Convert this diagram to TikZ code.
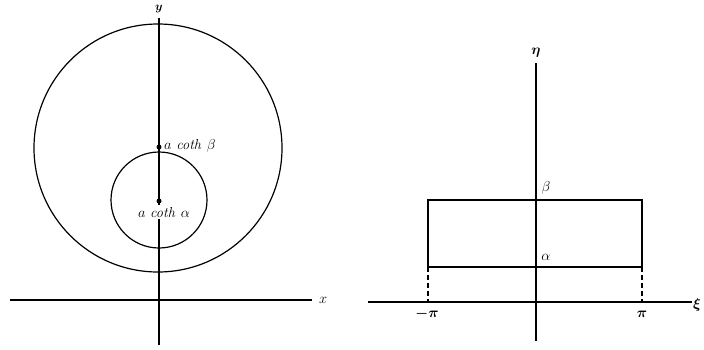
\documentclass[tikz,border=0pt]{standalone}
\usepackage{amsmath}
\usetikzlibrary{positioning}

\begin{document}
\begin{tikzpicture}[x=1pt, y=-1pt,
  axis/.style={line width=1.7pt, black},
  curve/.style={line width=1.2pt, black},
  guide/.style={line width=1.2pt, dash pattern=on 5pt off 3pt},
  lbl/.style={font=\Large, inner sep=1pt},
  blbl/.style={lbl, font=\Large\boldmath},
  pt/.style={circle, fill=black, inner sep=0pt, minimum size=5pt},
]
\useasboundingbox (0,0) rectangle (704,349);

%% -- z-plane ------------------------------------------------------
\coordinate (xL) at (10,300);
\coordinate (xR) at (312,300);
\coordinate (yB) at (159,345);
\coordinate (yT) at (159,18);
\node[blbl, font=\large\boldmath, anchor=north, inner sep=0pt] (ylab) at (159,5) {$y$};
\node[lbl, anchor=west] (xlab) at (318,300) {$x$};

\draw[curve] (158,148) circle[radius=124];
\draw[curve] (159,200) circle[radius=48];

\draw[axis] (xL) -- (xR);
\draw[axis] (yB) -- (yT);

\node[pt] (cb) at (159,147) {};
\node[pt] (ca) at (159,201) {};
\node[lbl, anchor=west] (cblab) at (163,146) {$a\ \mathit{coth}\ \beta$};
\node[lbl, fill=white, inner ysep=2pt] (calab) at (164,212) {$a\ \mathit{coth}\ \alpha$};

%% -- w-plane ------------------------------------------------------
\coordinate (xiL) at (368,302);
\coordinate (xiR) at (692,302);
\coordinate (etaB) at (536,341);
\coordinate (etaT) at (536,63);
\node[blbl] (etalab) at (536,53) {$\eta$};
\node[blbl, anchor=west] (xilab) at (692,305) {$\xi$};

\draw[axis] (xiL) -- (xiR);
\draw[axis] (etaB) -- (etaT);

\coordinate (rA) at (428,267);
\coordinate (rB) at (642,267);
\coordinate (rC) at (642,200);
\coordinate (rD) at (428,200);
\draw[curve] (rA) -- (rB) -- (rC) -- (rD) -- cycle;

\coordinate (pL) at (428,302);
\coordinate (pR) at (642,302);
\draw[guide] (rA) -- (pL);
\draw[guide] (rB) -- (pR);

\node[lbl] (blab) at (546,188) {$\beta$};
\node[lbl] (alab) at (546,257) {$\alpha$};
\node[blbl] (mpi) at (427,314) {$-\pi$};
\node[blbl] (ppi) at (642,314) {$\pi$};

\end{tikzpicture}
\end{document}
